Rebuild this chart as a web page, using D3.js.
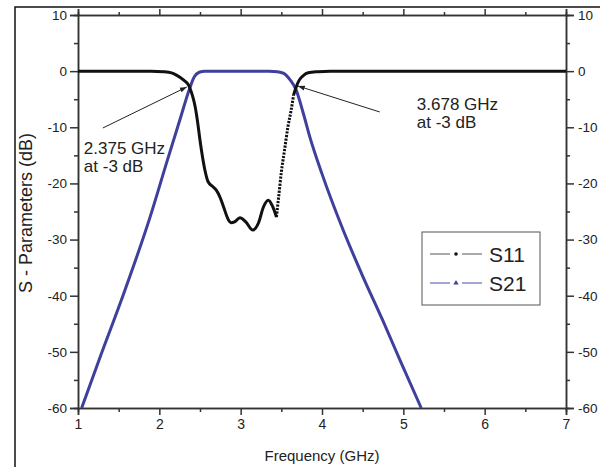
<!DOCTYPE html>
<html>
<head>
<meta charset="utf-8">
<script src="https://cdn.jsdelivr.net/npm/d3@7"></script>
<style>
  body { margin: 0; background: #fff; }
  text { font-family: Arial, "Liberation Sans", sans-serif; fill: #222; }
</style>
</head>
<body>
<script>
// S-parameter data (GHz, dB)
var s11_freq = [1.0, 1.5, 1.9, 2.05, 2.15, 2.21, 2.30, 2.36, 2.375, 2.41, 2.44, 2.47, 2.50, 2.53, 2.56, 2.60, 2.66, 2.70, 2.75, 2.79, 2.85, 2.88, 2.93, 2.99, 3.06, 3.15, 3.22, 3.28, 3.34, 3.39, 3.44, 3.47, 3.50, 3.54, 3.58, 3.62, 3.65, 3.678, 3.72, 3.77, 3.83, 3.95, 4.1, 5.0, 7.0];
var s11_db   = [0, 0, 0, -0.1, -0.3, -0.7, -1.6, -2.5, -3, -4.5, -6.3, -9, -12.3, -15.2, -17.6, -19.7, -20.6, -21.2, -22.6, -24.2, -26.5, -27.0, -26.8, -26.1, -26.8, -28.3, -27.0, -24.2, -23.0, -24.0, -26.0, -22, -18, -14, -10, -7, -4.3, -3, -1.6, -0.8, -0.3, -0.1, 0, 0, 0];

var s21_freq = [1.045, 1.27, 1.54, 1.886, 2.1, 2.25, 2.375, 2.43, 2.49, 2.56, 2.65, 3.35, 3.45, 3.53, 3.61, 3.678, 3.77, 3.85, 4.0, 4.26, 4.5, 4.75, 4.96, 5.22];
var s21_db   = [-60, -51, -40.5, -26, -15.8, -8.8, -3, -1.0, -0.2, 0, 0, 0, -0.1, -0.4, -1.6, -3.2, -7.5, -11.7, -18.3, -28.3, -36.5, -44.5, -51.5, -60];

var x_ticks = [1, 2, 3, 4, 5, 6, 7];
var y_ticks = [10, 0, -10, -20, -30, -40, -50, -60];
var series_names = ['S11', 'S21'];
var cutoffs = [2.375, 3.678];

var width = 611, height = 467;
var margin = {top: 15, right: 45, bottom: 59, left: 78};

var svg = d3.select('body').append('svg')
   .attr('width', width)
   .attr('height', height);

// page frame (left and top edges only)
svg.append('path')
   .attr('d', 'M15,467 V7 H600')
   .attr('fill', 'none')
   .attr('stroke', '#111')
   .attr('stroke-width', 1.5);

var x = d3.scaleLinear().domain([1, 7]).range([margin.left, width - margin.right]);
var y = d3.scaleLinear().domain([-60, 10]).range([height - margin.bottom, margin.top]);

var minorX = d3.range(1.5, 7, 1);
var minorY = d3.range(-55, 10, 10);
var plain = function(d) { return String(d); }; // keep ascii hyphen as in the original

function styleAxis(g) {
  g.selectAll('path, line').attr('stroke', '#333').attr('stroke-width', 1.5);
  g.selectAll('text').attr('font-size', 13.5).attr('fill', '#222');
}

// bottom
svg.append('g').attr('transform', 'translate(0,' + y(-60) + ')')
   .call(d3.axisBottom(x).tickValues(x_ticks).tickFormat(plain).tickSizeOuter(0).tickSize(7).tickPadding(4))
   .call(styleAxis)
   .call(function(g) { g.selectAll('text').attr('font-size', 14); });
svg.append('g').attr('transform', 'translate(0,' + y(-60) + ')')
   .call(d3.axisBottom(x).tickValues(minorX).tickFormat('').tickSizeOuter(0).tickSize(4))
   .call(styleAxis);
// top
svg.append('g').attr('transform', 'translate(0,' + y(10) + ')')
   .call(d3.axisTop(x).tickValues(x_ticks).tickFormat('').tickSizeOuter(0).tickSize(6))
   .call(styleAxis);
svg.append('g').attr('transform', 'translate(0,' + y(10) + ')')
   .call(d3.axisTop(x).tickValues(minorX).tickFormat('').tickSizeOuter(0).tickSize(3))
   .call(styleAxis);
// left
svg.append('g').attr('transform', 'translate(' + x(1) + ',0)')
   .call(d3.axisLeft(y).tickValues(y_ticks).tickFormat(plain).tickSizeOuter(0).tickSize(8).tickPadding(3))
   .call(styleAxis);
svg.append('g').attr('transform', 'translate(' + x(1) + ',0)')
   .call(d3.axisLeft(y).tickValues(minorY).tickFormat('').tickSizeOuter(0).tickSize(4))
   .call(styleAxis);
// right
svg.append('g').attr('transform', 'translate(' + x(7) + ',0)')
   .call(d3.axisRight(y).tickValues(y_ticks).tickFormat(plain).tickSizeOuter(0).tickSize(8).tickPadding(4))
   .call(styleAxis);
svg.append('g').attr('transform', 'translate(' + x(7) + ',0)')
   .call(d3.axisRight(y).tickValues(minorY).tickFormat('').tickSizeOuter(0).tickSize(4))
   .call(styleAxis);

// axis titles
svg.append('text')
   .attr('x', (x(1) + x(7)) / 2)
   .attr('y', 461)
   .attr('text-anchor', 'middle')
   .attr('font-size', 15)
   .text('Frequency (GHz)');
svg.append('text')
   .attr('transform', 'translate(32,213) rotate(-90)')
   .attr('text-anchor', 'middle')
   .attr('font-size', 18)
   .text('S - Parameters (dB)');

// curves
var line = d3.line()
   .x(function(d) { return x(d[0]); })
   .y(function(d) { return y(d[1]); })
   .curve(d3.curveMonotoneX);

var s21 = d3.zip(s21_freq, s21_db);
var s11 = d3.zip(s11_freq, s11_db);

svg.append('path').datum(s21)
   .attr('d', line)
   .attr('fill', 'none')
   .attr('stroke', '#3f3f9c')
   .attr('stroke-width', 3);

// S11 solid part and the sparse-sampled (dotted looking) rising edge
var s11_a = s11.filter(function(d) { return d[0] <= 3.44; });
var s11_b = s11.filter(function(d) { return d[0] >= 3.44 && d[0] <= 3.65; });
var s11_c = s11.filter(function(d) { return d[0] >= 3.65; });
[s11_a, s11_c].forEach(function(part) {
  svg.append('path').datum(part)
     .attr('d', line)
     .attr('fill', 'none')
     .attr('stroke', '#111')
     .attr('stroke-width', 3);
});
svg.append('path').datum(s11_b)
   .attr('d', line)
   .attr('fill', 'none')
   .attr('stroke', '#111')
   .attr('stroke-width', 3)
   .attr('stroke-dasharray', '2.2,1.3');

// annotations
svg.append('defs').append('marker')
   .attr('id', 'arr')
   .attr('viewBox', '0 0 10 10')
   .attr('refX', 10).attr('refY', 5)
   .attr('markerWidth', 7).attr('markerHeight', 7)
   .attr('orient', 'auto')
   .append('path').attr('d', 'M0,1.5 L10,5 L0,8.5 Z').attr('fill', '#222');

var notes = [
  {f: cutoffs[0], tip: [-3, -1], start: [-87, 40], text: [-106, 66]},
  {f: cutoffs[1], tip: [2, -2], start: [84, 24], text: [121, 22]}
];
notes.forEach(function(n) {
  var tx = x(n.f), ty = y(-3);
  svg.append('line')
     .attr('x1', tx + n.start[0]).attr('y1', ty + n.start[1])
     .attr('x2', tx + n.tip[0]).attr('y2', ty + n.tip[1])
     .attr('stroke', '#222').attr('stroke-width', 1)
     .attr('marker-end', 'url(#arr)');
  var t = svg.append('text')
     .attr('x', tx + n.text[0]).attr('y', ty + n.text[1])
     .attr('font-size', 17);
  t.append('tspan').text(d3.format('.3f')(n.f) + ' GHz');
  t.append('tspan').attr('x', tx + n.text[0]).attr('dy', 18).text('at -3 dB');
});

// legend
var lg = svg.append('g').attr('transform', 'translate(422,232)');
lg.append('rect')
   .attr('width', 118).attr('height', 73)
   .attr('fill', '#fff')
   .attr('stroke', '#555').attr('stroke-width', 1);
var colors = ['#555', '#4a4aa8'];
series_names.forEach(function(name, i) {
  var yy = 22 + i * 29;
  var g = lg.append('g');
  g.append('line').attr('x1', 8).attr('x2', 28).attr('y1', yy).attr('y2', yy)
   .attr('stroke', colors[i]).attr('stroke-width', 1);
  g.append('line').attr('x1', 40).attr('x2', 60).attr('y1', yy).attr('y2', yy)
   .attr('stroke', colors[i]).attr('stroke-width', 1);
  if (i === 0) {
    g.append('circle').attr('cx', 34).attr('cy', yy).attr('r', 1.8).attr('fill', '#111');
  } else {
    g.append('path').attr('d', d3.symbol(d3.symbolTriangle, 12)()).attr('transform', 'translate(34,' + yy + ')').attr('fill', '#3f3f9c');
  }
  g.append('text').attr('x', 67).attr('y', yy + 8).attr('font-size', 21).text(name);
});
</script>
</body>
</html>
